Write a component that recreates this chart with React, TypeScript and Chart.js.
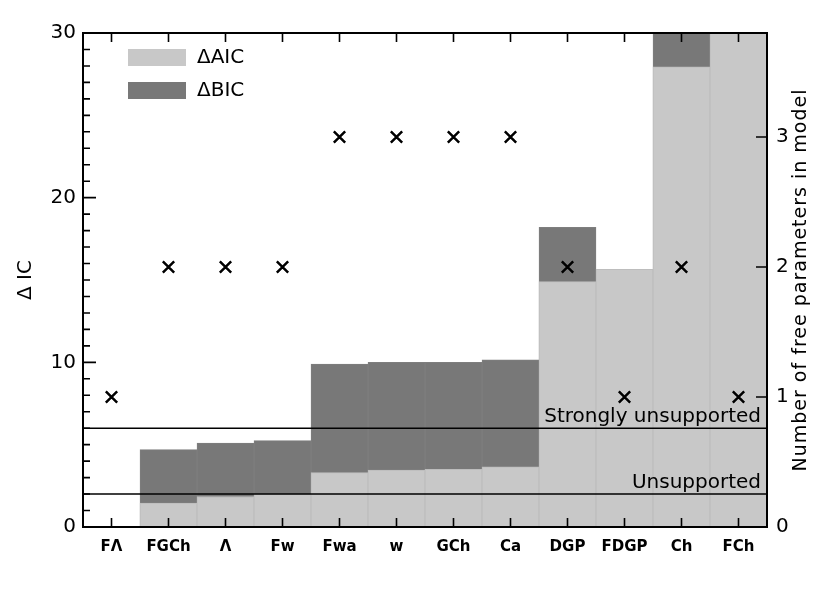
import React, { useEffect, useRef } from 'react';
import { Chart, registerables } from 'chart.js';

Chart.register(...registerables);

const categories = ['FΛ', 'FGCh', 'Λ', 'Fw', 'Fwa', 'w', 'GCh', 'Ca', 'DGP', 'FDGP', 'Ch', 'FCh'];
const deltaAIC = [0, 1.45, 1.85, 1.98, 3.3, 3.45, 3.5, 3.65, 14.9, 15.65, 27.95, 32];
const deltaBIC = [0, 4.7, 5.1, 5.25, 9.9, 10.0, 10.0, 10.15, 18.2, 14.5, 31.5, 33];
const freeParams = [1, 2, 2, 2, 3, 3, 3, 3, 2, 1, 2, 1];
const rightTicks = [0, 1, 2, 3];
const thresholds = [2, 6];
const thresholdLabels = ['Unsupported', 'Strongly unsupported'];
const legendLabels = ['ΔAIC', 'ΔBIC'];

const FONT = '"DejaVu Sans", sans-serif';

const decorPlugin = {
  id: 'decor',
  afterDraw(chart: any) {
    const { ctx, chartArea: a, scales } = chart;
    const y = scales.y;
    const y2 = scales.y2;
    const x = scales.x;
    ctx.save();
    ctx.strokeStyle = '#000';
    ctx.fillStyle = '#000';

    // threshold lines and labels
    ctx.lineWidth = 1.6;
    ctx.font = `20px ${FONT}`;
    ctx.textAlign = 'right';
    ctx.textBaseline = 'alphabetic';
    thresholds.forEach((t, i) => {
      const py = y.getPixelForValue(t);
      ctx.beginPath();
      ctx.moveTo(a.left, py);
      ctx.lineTo(a.right, py);
      ctx.stroke();
      ctx.fillText(thresholdLabels[i], a.right - 6, py - 6);
    });

    // tick marks (inward)
    ctx.lineWidth = 1.6;
    ctx.beginPath();
    for (let v = y.min; v <= y.max; v += 1) {
      const py = y.getPixelForValue(v);
      const len = v % 10 === 0 ? 13 : 7;
      ctx.moveTo(a.left, py);
      ctx.lineTo(a.left + len, py);
    }
    rightTicks.forEach((v) => {
      const py = y2.getPixelForValue(v);
      ctx.moveTo(a.right, py);
      ctx.lineTo(a.right - 11, py);
    });
    categories.forEach((_, i) => {
      const px = x.getPixelForValue(i);
      ctx.moveTo(px, a.bottom);
      ctx.lineTo(px, a.bottom - 9);
      ctx.moveTo(px, a.top);
      ctx.lineTo(px, a.top + 9);
    });
    ctx.stroke();

    // frame
    ctx.lineWidth = 2;
    ctx.strokeRect(a.left, a.top, a.right - a.left, a.bottom - a.top);

    // legend
    const ds = chart.data.datasets;
    const items = [ds[1], ds[2]];
    ctx.font = `20px ${FONT}`;
    ctx.textAlign = 'left';
    ctx.textBaseline = 'middle';
    items.forEach((d: any, i: number) => {
      const top = a.top + 16 + i * 33;
      ctx.fillStyle = d.backgroundColor;
      ctx.fillRect(a.left + 45, top, 58, 17);
      ctx.fillStyle = '#000';
      ctx.fillText(legendLabels[i], a.left + 114, top + 9);
    });

    // right axis title (reading upward)
    ctx.save();
    ctx.translate(801, (a.top + a.bottom) / 2);
    ctx.rotate(-Math.PI / 2);
    ctx.textAlign = 'center';
    ctx.textBaseline = 'middle';
    ctx.font = `19px ${FONT}`;
    try { (ctx as any).letterSpacing = '1px'; } catch (e) { /* ignore */ }
    ctx.fillText('Number of free parameters in model', 0, 0);
    ctx.restore();

    ctx.restore();
  },
};

export default function App() {
  const ref = useRef<HTMLCanvasElement | null>(null);

  useEffect(() => {
    if (!ref.current) return;
    const chart = new Chart(ref.current, {
      type: 'bar',
      data: {
        labels: categories,
        datasets: [
          {
            type: 'line',
            label: 'Free parameters',
            data: freeParams,
            yAxisID: 'y2',
            showLine: false,
            pointStyle: 'crossRot',
            pointRadius: 8,
            borderColor: '#000',
            borderWidth: 2.5,
            order: 0,
          } as any,
          {
            label: 'ΔAIC',
            data: deltaAIC,
            yAxisID: 'y',
            backgroundColor: '#c8c8c8',
            borderColor: '#bdbdbd',
            borderWidth: 1,
            grouped: false,
            barPercentage: 1,
            categoryPercentage: 1,
            order: 1,
          },
          {
            label: 'ΔBIC',
            data: deltaBIC,
            yAxisID: 'y',
            backgroundColor: '#787878',
            borderColor: '#7e7e7e',
            borderWidth: 1,
            grouped: false,
            barPercentage: 1,
            categoryPercentage: 1,
            order: 2,
          },
        ],
      },
      options: {
        responsive: false,
        devicePixelRatio: 1,
        animation: false,
        layout: { padding: { top: 33, left: 0, right: 0, bottom: 0 } },
        plugins: { legend: { display: false }, tooltip: { enabled: false } },
        scales: {
          x: {
            type: 'category',
            grid: { display: false, drawTicks: false },
            border: { display: false },
            ticks: {
              color: '#000',
              font: { family: FONT, size: 15, weight: 'bold' },
              padding: 11,
              maxRotation: 0,
              autoSkip: false,
            },
            afterFit: (s: any) => { s.height = 66; },
          },
          y: {
            type: 'linear',
            position: 'left',
            min: 0,
            max: 30,
            grid: { display: false, drawTicks: false },
            border: { display: false },
            ticks: {
              stepSize: 10,
              color: '#000',
              font: { family: FONT, size: 20 },
              padding: 7,
            },
            title: {
              display: true,
              text: 'Δ IC',
              color: '#000',
              font: { family: FONT, size: 20 },
              padding: { top: 14, bottom: 0 },
            },
            afterFit: (s: any) => { s.width = 83; },
          },
          y2: {
            type: 'linear',
            position: 'right',
            min: 0,
            max: 3.8,
            grid: { display: false, drawTicks: false },
            border: { display: false },
            ticks: {
              stepSize: 1,
              color: '#000',
              font: { family: FONT, size: 20 },
              padding: 9,
              callback: (v: any) => (Number.isInteger(v) ? String(v) : ''),
            },
            afterFit: (s: any) => { s.width = 63; },
          },
        },
      },
      plugins: [decorPlugin],
    });
    return () => chart.destroy();
  }, []);

  return (
    <div style={{ position: 'absolute', left: 0, top: 0, width: 830, height: 593, background: '#fff' }}>
      <canvas ref={ref} width={830} height={593} style={{ display: 'block' }} />
    </div>
  );
}
